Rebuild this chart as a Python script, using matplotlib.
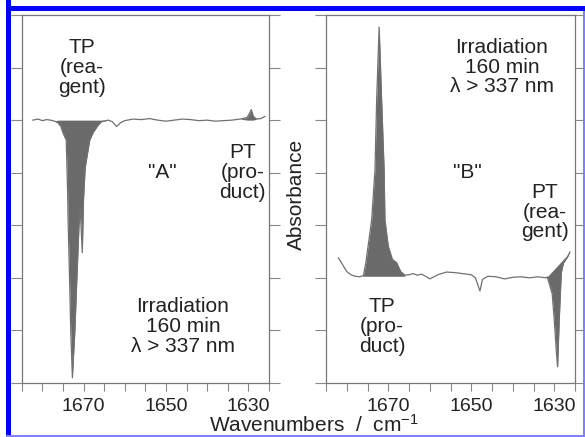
import numpy as np
import matplotlib
matplotlib.use("Agg")
import matplotlib.pyplot as plt
from matplotlib.patches import Rectangle

plt.rcParams['font.family'] = ['Liberation Sans', 'DejaVu Sans']
plt.rcParams['mathtext.fontset'] = 'custom'
plt.rcParams['mathtext.rm'] = 'Liberation Sans'
plt.rcParams['mathtext.it'] = 'Liberation Sans'

# --- DATA (arbitrary absorbance units) ---
# panel "A": difference spectrum, TP (reagent) decreases, PT (product) grows
left_wn = [1682.3, 1681.0, 1680.0, 1679.0, 1678.0, 1677.0, 1676.2, 1675.5, 1675.0,
           1674.2, 1673.85, 1673.75, 1673.4, 1673.1, 1672.7, 1672.1, 1671.6, 1671.1,
           1670.8, 1670.3, 1670.0, 1669.6, 1668.5, 1667.7, 1666.5, 1665.7, 1664.0,
           1663.0, 1662.0, 1661.0, 1660.0, 1658.0, 1656.0, 1654.0, 1652.0, 1650.0,
           1648.0, 1646.0, 1644.0, 1642.0, 1640.0, 1638.0, 1636.0, 1634.0, 1632.0,
           1630.3, 1629.8, 1629.3, 1628.8, 1628.0, 1627.0, 1626.0]
left_abs = [5.00, 5.02, 4.99, 5.01, 5.00, 4.98, 4.95, 4.88, 4.76,
            4.62, 3.60, 3.10, 2.02, 1.00, 0.10, 1.00, 2.02, 3.00,
            3.30, 2.48, 3.50, 4.10, 4.62, 4.76, 4.90, 4.97, 5.00,
            4.97, 4.88, 4.95, 4.99, 5.02, 5.01, 5.03, 5.00, 4.98,
            5.00, 5.02, 5.01, 4.99, 5.00, 4.98, 4.99, 5.00, 5.02,
            5.05, 5.12, 5.20, 5.07, 5.02, 5.03, 5.07]
left_base = 5.0

# panel "B": TP (product) grows, PT (reagent) decreases
right_wn = [1682.0, 1681.0, 1680.0, 1679.0, 1678.0, 1677.0, 1676.0, 1675.4, 1674.0,
            1673.2, 1672.8, 1672.2, 1671.6, 1671.0, 1670.8, 1670.0, 1669.0, 1668.0,
            1667.0, 1666.0, 1665.0, 1664.0, 1663.0, 1662.0, 1661.0, 1660.0, 1658.0,
            1656.0, 1654.0, 1652.0, 1650.0, 1649.0, 1647.9, 1647.3, 1646.0, 1644.0,
            1642.0, 1640.0, 1638.0, 1636.0, 1634.0, 1632.0, 1631.7, 1630.5, 1630.0,
            1629.5, 1629.2, 1628.8, 1628.3, 1627.8, 1626.8, 1626.2]
right_abs = [2.38, 2.25, 2.12, 2.06, 2.03, 2.02, 2.04, 2.29, 3.10,
             4.05, 5.38, 6.77, 5.38, 4.05, 3.10, 2.60, 2.35, 2.29,
             2.12, 2.05, 2.06, 2.08, 2.05, 2.07, 2.03, 1.98, 2.06,
             2.11, 2.10, 2.08, 2.06, 2.00, 1.75, 1.97, 2.03, 2.02,
             1.98, 2.01, 2.02, 2.00, 2.02, 2.00, 2.02, 1.70, 1.20,
             0.60, 0.31, 1.20, 2.10, 2.28, 2.40, 2.49]
right_base = 2.03
# sloped base line under the PT band in "B" (ascending wavenumber)
pt_base_wn = [1626.2, 1631.7]
pt_base_abs = [2.49, 2.02]

tick_labels = [1670, 1650, 1630]

# --- PLOT ---
fig = plt.figure(figsize=(5.85, 4.37), dpi=100)
ax1 = fig.add_axes([0.0371, 0.1236, 0.4227, 0.8421])
ax2 = fig.add_axes([0.5573, 0.1236, 0.4256, 0.8421])

line_col = '#707070'
fill_col = '#6a6a6a'
text_col = '#222222'

for ax in (ax1, ax2):
    ax.set_xlim(1685, 1625)
    ax.set_ylim(0, 7)
    ax.set_xticks(tick_labels)
    ax.set_xticks(np.arange(1625, 1686, 5), minor=True)
    ax.set_yticks(range(8))
    ax.set_yticklabels([])
    ax.tick_params(axis='y', which='both', direction='out', length=8, left=True, right=True,
                   color='#888888', width=0.8)
    ax.tick_params(axis='x', which='both', direction='out', length=6, color='#888888',
                   width=0.8, labelsize=14, labelcolor=text_col, pad=5)
    for s in ax.spines.values():
        s.set_color('#777777')
        s.set_linewidth(0.9)

lw_ = np.array(left_wn)
la_ = np.array(left_abs)
ax1.plot(lw_, la_, color=line_col, lw=0.9)
ax1.fill_between(lw_, la_, left_base, where=(lw_ <= 1676.2) & (lw_ >= 1665.7),
                 color=fill_col, lw=0, interpolate=True)
ax1.fill_between(lw_, la_, left_base, where=(lw_ <= 1630.3) & (lw_ >= 1628.3),
                 color=fill_col, lw=0, interpolate=True)

rw_ = np.array(right_wn)
ra_ = np.array(right_abs)
ax2.plot(rw_, ra_, color=line_col, lw=0.9)
ax2.fill_between(rw_, ra_, right_base, where=(rw_ <= 1676.0) & (rw_ >= 1665.5),
                 color=fill_col, lw=0, interpolate=True)
pt_base = np.interp(rw_, pt_base_wn, pt_base_abs)
ax2.fill_between(rw_, ra_, pt_base, where=(rw_ <= 1631.7),
                 color=fill_col, lw=0, interpolate=True)

kw = dict(ha='center', va='center', fontsize=15, color=text_col, linespacing=1.05)
ax1.text(1670.4, 6.0, "TP\n(rea-\ngent)", **kw)
ax1.text(1650.8, 4.0, '"A"', **kw)
ax1.text(1631.4, 4.0, "PT\n(pro-\nduct)", **kw)
ax1.text(1645.9, 1.07, "Irradiation\n160 min\n\u03bb > 337 nm", **kw)

ax2.text(1642.6, 6.01, "Irradiation\n160 min\n\u03bb > 337 nm", **kw)
ax2.text(1651.0, 4.0, '"B"', **kw)
ax2.text(1632.2, 3.25, "PT\n(rea-\ngent)", **kw)
ax2.text(1671.5, 1.07, "TP\n(pro-\nduct)", **kw)

fig.text(0.506, 0.554, "Absorbance", rotation=90, ha='center', va='center',
         fontsize=15, color=text_col)
fig.text(0.537, 1 - 425 / 437, "Wavenumbers  /  cm$^{-1}$", ha='center', va='center',
         fontsize=15, color=text_col)

# blue frame round the figure
W, H = 585.0, 437.0
frame = [
    (6 / W, 0, 5 / W, 437 / H, '#0000ff'),          # left bar
    (6 / W, 1 - 11 / H, 579 / W, 5 / H, '#0000ff'),  # top bar
    (583 / W, 0, 2 / W, 426 / H, '#8080ff'),         # right side
    (6 / W, 0, 579 / W, 2 / H, '#8080ff'),           # bottom
]
for x, y, w, h, c in frame:
    fig.patches.append(Rectangle((x, y), w, h, transform=fig.transFigure,
                                 facecolor=c, edgecolor='none', zorder=10))

fig.savefig("out.png", dpi=100)
